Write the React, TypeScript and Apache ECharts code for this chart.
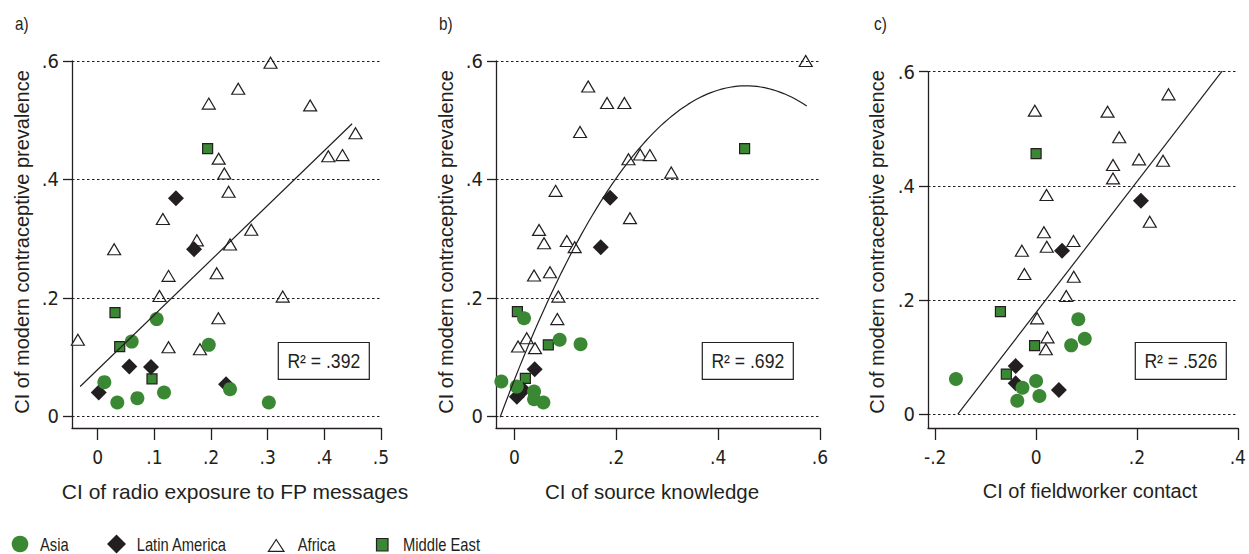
import React, { useEffect, useRef } from "react";
import * as echarts from "echarts";

const INK = "#231f20";
const GREEN = "#3a8833";
const NARROW = "'Liberation Sans Narrow', 'Arial Narrow', 'DejaVu Sans Condensed', sans-serif";
const ARIAL = "'Liberation Sans', Arial, sans-serif";

// ---------- Panel a: radio exposure ----------
const africaA = [
  [0.305, 0.597], [0.248, 0.553], [0.196, 0.528], [0.375, 0.525], [0.455, 0.478],
  [0.407, 0.439], [0.432, 0.441], [0.2135, 0.435], [0.2235, 0.41], [0.231, 0.379],
  [0.115, 0.333], [0.271, 0.315], [0.175, 0.297], [0.2335, 0.29], [0.029, 0.282],
  [0.125, 0.237], [0.21, 0.2415], [0.109, 0.203], [0.3265, 0.202], [0.213, 0.1655],
  [-0.035, 0.129], [0.125, 0.1165], [0.1805, 0.113],
];
const asiaA = [
  [0.104, 0.164], [0.06, 0.126], [0.196, 0.1205], [0.0117, 0.0574], [0.2335, 0.0456],
  [0.117, 0.04], [0.07, 0.0304], [0.0346, 0.023], [0.302, 0.023],
];
const latinA = [
  [0.138, 0.368], [0.17, 0.282], [0.0558, 0.0838], [0.094, 0.083], [0.2265, 0.054], [0.0018, 0.04],
];
const middleEastA = [[0.194, 0.452], [0.0305, 0.175], [0.0388, 0.1176], [0.0958, 0.063]];

// ---------- Panel b: source knowledge ----------
const africaB = [
  [0.572, 0.6], [0.145, 0.557], [0.182, 0.529], [0.216, 0.529], [0.129, 0.48],
  [0.224, 0.434], [0.247, 0.442], [0.266, 0.441], [0.308, 0.4115], [0.081, 0.3806],
  [0.227, 0.3345], [0.0485, 0.3147], [0.0583, 0.292], [0.103, 0.296], [0.1185, 0.2855],
  [0.0387, 0.2376], [0.07, 0.243], [0.0864, 0.202], [0.0844, 0.164], [0.0243, 0.1317],
  [0.0073, 0.1176], [0.0406, 0.1149],
];
const asiaB = [
  [0.019, 0.1655], [0.089, 0.129], [0.13, 0.1216], [-0.0255, 0.0585], [0.0047, 0.05],
  [0.0387, 0.0416], [0.0387, 0.0287], [0.057, 0.023],
];
const latinB = [[0.188, 0.369], [0.1696, 0.2855], [0.04, 0.0794], [0.005, 0.033], [0.0177, 0.044]];
const middleEastB = [[0.452, 0.452], [0.006, 0.1767], [0.0667, 0.1204], [0.0216, 0.064]];

// ---------- Panel c: fieldworker contact ----------
const africaC = [
  [0.3765, 0.602], [0.2625, 0.5603], [-0.0025, 0.5317], [0.1417, 0.53], [0.1648, 0.485],
  [0.204, 0.4464], [0.2517, 0.444], [0.1525, 0.4365], [0.1525, 0.413], [0.0207, 0.384],
  [0.2253, 0.337], [0.0155, 0.3185], [0.0741, 0.3032], [0.0212, 0.2933], [-0.0282, 0.2863],
  [-0.0232, 0.2454], [0.0747, 0.2407], [0.0598, 0.2068], [0.002, 0.1677], [0.0226, 0.1344],
  [0.0193, 0.1134],
];
const asiaC = [
  [0.0837, 0.166], [0.0965, 0.132], [0.0695, 0.1204], [-0.1589, 0.0613], [0, 0.0578],
  [-0.027, 0.0461], [0.0066, 0.0316], [-0.0373, 0.0233],
];
const latinC = [[0.2079, 0.374], [0.0515, 0.2863], [-0.0405, 0.0841], [-0.0405, 0.0538], [0.0452, 0.0421]];
const middleEastC = [[0, 0.4563], [-0.0707, 0.1794], [-0.003, 0.1198], [-0.059, 0.0701]];

// fitted lines (polynomial coefficients: c0 + c1 x + c2 x^2) and drawn x range
const fitA = { coef: [0.0787, 0.925, 0], range: [-0.031, 0.449] };
const fitB = { coef: [0.0612, 2.184, -2.4], range: [-0.028, 0.574] };
const fitC = { coef: [0.178, 1.147, 0], range: [-0.1552, 0.3765] };
const r2Labels = [".392", ".692", ".526"];

// axes
const panelLetters = ["a)", "b)", "c)"];
const xTitles = ["CI of radio exposure to FP messages", "CI of source knowledge", "CI of fieldworker contact"];
const yTitle = "CI of modern contraceptive prevalence";
const xTicksA = [0, 0.1, 0.2, 0.3, 0.4, 0.5];
const xTicksB = [0, 0.2, 0.4, 0.6];
const xTicksC = [-0.2, 0, 0.2, 0.4];
const yTicks = [0, 0.2, 0.4, 0.6];
const legendNames = ["Asia", "Latin America", "Africa", "Middle East"];

const fmt = (v: number) => {
  if (Math.abs(v) < 1e-9) return "0";
  const s = String(Math.round(v * 10) / 10);
  return s.replace("0.", ".");
};

const fitPoints = (fit: { coef: number[]; range: number[] }) => {
  const [a, b, c] = fit.coef;
  const [x0, x1] = fit.range;
  const n = c === 0 ? 1 : 80;
  const pts: number[][] = [];
  for (let i = 0; i <= n; i++) {
    const x = x0 + ((x1 - x0) * i) / n;
    pts.push([x, a + b * x + c * x * x]);
  }
  return pts;
};

export default function App() {
  const ref = useRef<HTMLDivElement>(null);
  useEffect(() => {
    if (!ref.current) return;
    const chart = echarts.init(ref.current, null, { renderer: "svg" });

    const grids = [
      { left: 72, top: 61, width: 309, height: 367 },
      { left: 496, top: 61, width: 324, height: 367 },
      { left: 928, top: 71.7, width: 320, height: 356.3 },
    ];
    const xRanges = [[-0.0454, 0.5], [-0.036, 0.6], [-0.2143, 0.4]];
    const yRanges = [[-0.02, 0.6], [-0.02, 0.6], [-0.0245, 0.6]];
    const xTicks = [xTicksA, xTicksB, xTicksC];
    const data = [
      { af: africaA, as: asiaA, la: latinA, me: middleEastA, fit: fitA },
      { af: africaB, as: asiaB, la: latinB, me: middleEastB, fit: fitB },
      { af: africaC, as: asiaC, la: latinC, me: middleEastC, fit: fitC },
    ];

    const axisLine = { show: true, onZero: false, lineStyle: { color: INK, width: 1.3 } };
    const xAxis = grids.map((_, i) => ({
      type: "value",
      gridIndex: i,
      min: xRanges[i][0],
      max: xRanges[i][1],
      axisLine,
      axisTick: { show: true, length: 12, customValues: xTicks[i], lineStyle: { color: INK, width: 1.3 } },
      axisLabel: {
        customValues: xTicks[i],
        formatter: fmt,
        margin: 19,
        fontSize: 19,
        fontFamily: NARROW,
        color: INK,
      },
      splitLine: { show: false },
    }));
    const yAxis = grids.map((_, i) => ({
      type: "value",
      gridIndex: i,
      min: yRanges[i][0],
      max: yRanges[i][1],
      axisLine,
      axisTick: { show: true, length: 9, customValues: yTicks, lineStyle: { color: INK, width: 1.3 } },
      axisLabel: {
        customValues: yTicks,
        formatter: fmt,
        margin: 13,
        fontSize: 20,
        fontFamily: NARROW,
        color: INK,
      },
      splitLine: { show: false },
    }));

    const series: any[] = [];
    data.forEach((d, i) => {
      const common = { xAxisIndex: i, yAxisIndex: i, emphasis: { disabled: true }, silent: true };
      series.push({
        ...common,
        type: "line",
        data: [],
        markLine: {
          silent: true,
          symbol: ["none", "none"],
          label: { show: false },
          lineStyle: { color: INK, width: 1.2, type: [2.5, 2.5], opacity: 1 },
          data: yTicks.map((v) => ({ yAxis: v })),
        },
      });
      series.push({
        ...common,
        name: "Africa",
        type: "scatter",
        symbol: "triangle",
        symbolSize: [13, 11],
        itemStyle: { color: "#ffffff", borderColor: INK, borderWidth: 1.2, opacity: 1 },
        data: d.af,
      });
      series.push({
        ...common,
        name: "Middle East",
        type: "scatter",
        symbol: "rect",
        symbolSize: 10,
        itemStyle: { color: GREEN, borderColor: INK, borderWidth: 1.2, opacity: 1 },
        data: d.me,
      });
      series.push({
        ...common,
        name: "Latin America",
        type: "scatter",
        symbol: "diamond",
        symbolSize: 16,
        itemStyle: { color: INK, opacity: 1 },
        data: d.la,
      });
      series.push({
        ...common,
        name: "Asia",
        type: "scatter",
        symbol: "circle",
        symbolSize: 14,
        itemStyle: { color: GREEN, opacity: 1 },
        data: d.as,
      });
      series.push({
        ...common,
        type: "line",
        showSymbol: false,
        symbol: "none",
        lineStyle: { color: INK, width: 1.2, opacity: 1 },
        data: fitPoints(d.fit),
      });
    });

    const graphic: any[] = [];
    const letterX = [15, 439, 874];
    panelLetters.forEach((t, i) => {
      graphic.push({
        type: "text",
        x: letterX[i],
        y: 24,
        scaleX: 0.85,
        style: { text: t, fill: INK, font: `18px ${ARIAL}`, textVerticalAlign: "middle", verticalAlign: "middle" },
      });
    });
    const yTitleX = [22, 446, 877];
    yTitleX.forEach((x) => {
      graphic.push({
        type: "text",
        x,
        y: 242,
        rotation: Math.PI / 2,
        style: {
          text: yTitle,
          fill: INK,
          font: `20px ${ARIAL}`,
          textAlign: "center",
          align: "center",
          textVerticalAlign: "middle",
          verticalAlign: "middle",
        },
      });
    });
    const xTitleX = [235, 652, 1090];
    const xTitleSize = [21, 20.5, 20];
    xTitles.forEach((t, i) => {
      graphic.push({
        type: "text",
        x: xTitleX[i],
        y: 491,
        style: {
          text: t,
          fill: INK,
          font: `${xTitleSize[i]}px ${ARIAL}`,
          textAlign: "center",
          align: "center",
          textVerticalAlign: "middle",
          verticalAlign: "middle",
        },
      });
    });
    const boxX = [278.3, 702.3, 1135.3];
    r2Labels.forEach((r, i) => {
      graphic.push({
        type: "rect",
        shape: { x: boxX[i], y: 342.5, width: 91, height: 36.8 },
        style: { fill: "#ffffff", stroke: INK, lineWidth: 1.2 },
      });
      graphic.push({
        type: "text",
        x: boxX[i] + 45.5,
        y: 361,
        scaleX: 0.88,
        style: {
          text: `R\u00b2 = ${r}`,
          fill: INK,
          font: `20px ${ARIAL}`,
          textAlign: "center",
          align: "center",
          textVerticalAlign: "middle",
          verticalAlign: "middle",
        },
      });
    });
    // legend
    graphic.push({ type: "circle", shape: { cx: 20, cy: 544, r: 8.3 }, style: { fill: GREEN } });
    graphic.push({
      type: "polygon",
      shape: { points: [[116.5, 534.5], [126, 544], [116.5, 553.5], [107, 544]] },
      style: { fill: INK },
    });
    graphic.push({
      type: "polygon",
      shape: { points: [[276.2, 539.5], [284, 551.3], [268.4, 551.3]] },
      style: { fill: "#ffffff", stroke: INK, lineWidth: 1.2 },
    });
    graphic.push({
      type: "rect",
      shape: { x: 376.5, y: 538.5, width: 11.5, height: 12.5 },
      style: { fill: GREEN, stroke: INK, lineWidth: 1.2 },
    });
    const legendX = [40, 136.7, 297.7, 403];
    legendNames.forEach((t, i) => {
      graphic.push({
        type: "text",
        x: legendX[i],
        y: 544,
        scaleX: 0.82,
        style: { text: t, fill: INK, font: `18px ${ARIAL}`, textVerticalAlign: "middle", verticalAlign: "middle" },
      });
    });

    chart.setOption({
      animation: false,
      backgroundColor: "#ffffff",
      grid: grids.map((g) => ({ ...g, containLabel: false })),
      xAxis,
      yAxis,
      series,
      graphic,
    });
    return () => chart.dispose();
  }, []);

  return (
    <div
      ref={ref}
      style={{ position: "absolute", left: 0, top: 0, width: 1249, height: 554, background: "#fff" }}
    />
  );
}
